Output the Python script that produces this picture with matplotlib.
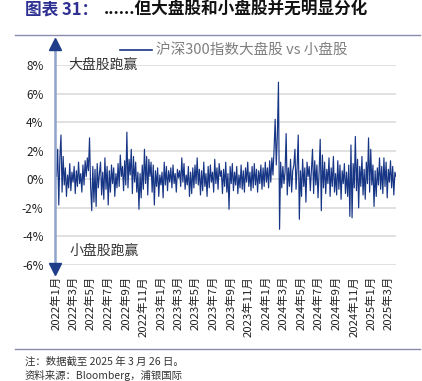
import matplotlib
matplotlib.use("Agg")
from matplotlib import pyplot as plt
from matplotlib.lines import Line2D
import pandas as pd

plt.rcParams['font.family'] = ['Noto Sans CJK SC', 'DejaVu Sans']
plt.rcParams['axes.unicode_minus'] = False

# relative return, large cap (CSI 300) vs small cap, %, ~8 readings per month
vals_2022 = [
    0.2, 2.1, -1.8, 1.5, 3.1, -0.9, 1.6, -0.4,
    0.8, -1.2, 0.3, -0.6, 1.1, -0.8, 0.5, -0.2,
    0.9, -1.0, 0.6, -0.5, 1.2, -0.3, 0.4, -0.9,
    1.0, -0.4, 1.3, 0.2, 1.5, 0.6, 2.9, -0.5,
    -2.2, 0.9, -1.6, 0.7, -1.9, 1.1, -0.6, 0.4,
    1.2, -1.1, 0.5, -1.4, 1.5, -0.7, 0.9, -1.8,
    0.6, -0.9, 1.0, -0.3, 0.8, -1.2, 0.4, -0.6,
    1.1, -0.5, 1.7, 0.2, 0.9, -0.8, 1.3, -0.4,
    3.3, -0.6, 1.4, 0.3, 2.1, -1.0, 1.6, -0.2,
    1.2, -0.9, 0.5, -2.1, 0.4, -1.3, 1.0, -0.7,
    2.1, -0.3, 1.6, -1.1, 1.4, 0.2, 1.2, -0.9,
    1.0, -1.8, 0.6, -0.5, 0.8, -1.2, 0.3, -0.4,
]
vals_2023 = [
    0.5, -1.3, 1.2, -0.4, 0.9, -0.8, 0.6, -0.2,
    0.8, -0.6, 1.0, -0.3, 0.4, -0.9, 0.7, 0.1,
    0.6, -0.5, 1.5, -0.2, 1.1, -0.7, 0.3, -0.4,
    0.9, -1.2, 0.5, -1.0, 0.8, -0.6, 1.0, -0.3,
    1.5, -0.4, 0.7, -1.1, 0.6, -0.8, 1.2, -0.5,
    0.4, -1.2, 0.9, -0.6, 1.0, -0.2, 0.5, -0.9,
    1.4, -0.3, 0.8, -0.7, 1.1, 0.2, 0.6, -1.0,
    0.7, -0.5, 1.2, -0.9, 0.4, -2.1, 0.9, -0.3,
    1.1, -0.8, 0.5, -0.4, 0.9, -1.0, 0.3, -0.6,
    1.0, -0.7, 0.6, -0.9, 0.8, -0.2, 1.2, -0.5,
    0.5, -0.8, 0.9, -0.6, 1.1, -0.4, 0.7, -0.9,
    0.6, -0.3, 1.0, -0.7, 0.8, -0.5, 1.2, -0.2,
]
vals_2024 = [
    0.8, -0.6, 1.3, -0.2, 1.5, 0.3, 2.1, 4.2,
    1.0, 3.1, 6.8, -3.5, 1.2, -0.6, 0.9, -0.3,
    0.5, 3.2, -1.1, 0.8, -0.5, 1.4, -0.9, 0.6,
    1.0, 2.1, -0.7, 0.9, 3.1, -2.8, 0.6, -1.2,
    1.4, -0.5, 0.8, -1.6, 1.2, 0.2, 0.9, -0.8,
    0.6, 2.1, -1.0, 1.3, -0.4, 1.0, -1.3, 0.5,
    2.8, -2.2, 1.7, -0.6, 1.2, -1.0, 0.7, -0.3,
    1.5, -1.2, 0.8, -0.5, 1.6, -0.9, 0.4, -1.1,
    1.3, -0.7, 1.0, -1.4, 0.6, -0.3, 1.1, -1.0,
    0.5, -1.2, 1.0, -2.6, 2.4, -2.7, 1.1, -0.6,
    3.0, -0.8, 1.4, -2.0, 0.9, -0.5, 1.6, -1.1,
    0.7, -1.4, 1.2, -0.3, 2.9, -0.9, 2.1, -0.4,
]
vals_2025 = [
    1.0, -1.9, 0.6, -1.2, 0.8, -0.4, 1.5, -0.7,
    0.9, -1.0, 1.5, -0.5, 1.2, -1.3, 0.7, -0.2,
    1.3, -0.6, 0.9, -1.1, 0.5, 0.2,
]
yticks = [8, 6, 4, 2, 0, -2, -4, -6]

values = vals_2022 + vals_2023 + vals_2024 + vals_2025
dates = pd.date_range("2022-01-03", "2025-03-26", periods=len(values))
tick_dates = pd.date_range("2022-01-01", "2025-03-01", freq="2MS")
tick_labels = [f"{d.year}年{d.month}月" for d in tick_dates]

fig = plt.figure(figsize=(4.22, 3.81), dpi=100)
ax = fig.add_axes([56 / 422, 1 - 265 / 381, 340 / 422, 200 / 381])

ax.plot(dates, values, color="#173585", lw=0.85)

ax.set_ylim(-6, 8)
ax.set_xlim(pd.Timestamp("2022-01-01"), pd.Timestamp("2025-03-26"))
ax.set_yticks(yticks)
ax.set_yticklabels([f"{v}%" for v in yticks])
ax.set_xticks(tick_dates)
ax.set_xticklabels(tick_labels, rotation=90)
ax.tick_params(axis="y", length=0, pad=9, labelsize=8.5, colors="#222222")
ax.tick_params(axis="x", length=0, pad=8, labelsize=8.2, colors="#222222")
ax.grid(axis="y", color="#dcdcdc", lw=1.2)
ax.set_axisbelow(True)
for s in ax.spines.values():
    s.set_visible(False)

ax.text(0.035, 8, "大盘股跑赢", fontsize=10, va="center", color="#333333",
        transform=ax.get_yaxis_transform())
ax.text(0.04, -5, "小盘股跑赢", fontsize=10, va="center", color="#333333",
        transform=ax.get_yaxis_transform())

# y axis drawn as a double arrow
ax_x = 55 / 422
fig.add_artist(Line2D([ax_x, ax_x], [1 - 272 / 381, 1 - 42 / 381],
                      color="#8fa3cc", lw=1.8, transform=fig.transFigure))
fig.add_artist(Line2D([ax_x], [1 - 44 / 381], marker="^", ms=8, color="#1f3c88",
                      transform=fig.transFigure))
fig.add_artist(Line2D([ax_x], [1 - 269 / 381], marker="v", ms=8, color="#1f3c88",
                      transform=fig.transFigure))

# legend
fig.add_artist(Line2D([120 / 422, 152 / 422], [1 - 50 / 381] * 2, color="#173585",
                      lw=1.2, transform=fig.transFigure))
fig.text(156 / 422, 1 - 50 / 381, "沪深300指数大盘股 vs 小盘股", fontsize=10.5,
         color="#7f7f7f", va="center")

# title and rules
fig.text(25 / 422, 1 - 9 / 381, "图表 31：", fontsize=12, fontweight="bold",
         color="#2e3192", va="center")
fig.text(104 / 422, 1 - 9 / 381, "......但大盘股和小盘股并无明显分化", fontsize=12,
         fontweight="bold", color="#111111", va="center")
for yy in (35, 349):
    fig.add_artist(Line2D([15 / 422, 420 / 422], [1 - yy / 381] * 2, color="#8a8ab0",
                          lw=1.0, transform=fig.transFigure))

fig.text(25 / 422, 1 - 362 / 381, "注：数据截至 2025 年 3 月 26 日。", fontsize=7.5,
         color="#333333", va="center")
fig.text(25 / 422, 1 - 375 / 381, "资料来源：Bloomberg，浦银国际", fontsize=7.5,
         color="#333333", va="center")

fig.savefig("out.png", dpi=100)
